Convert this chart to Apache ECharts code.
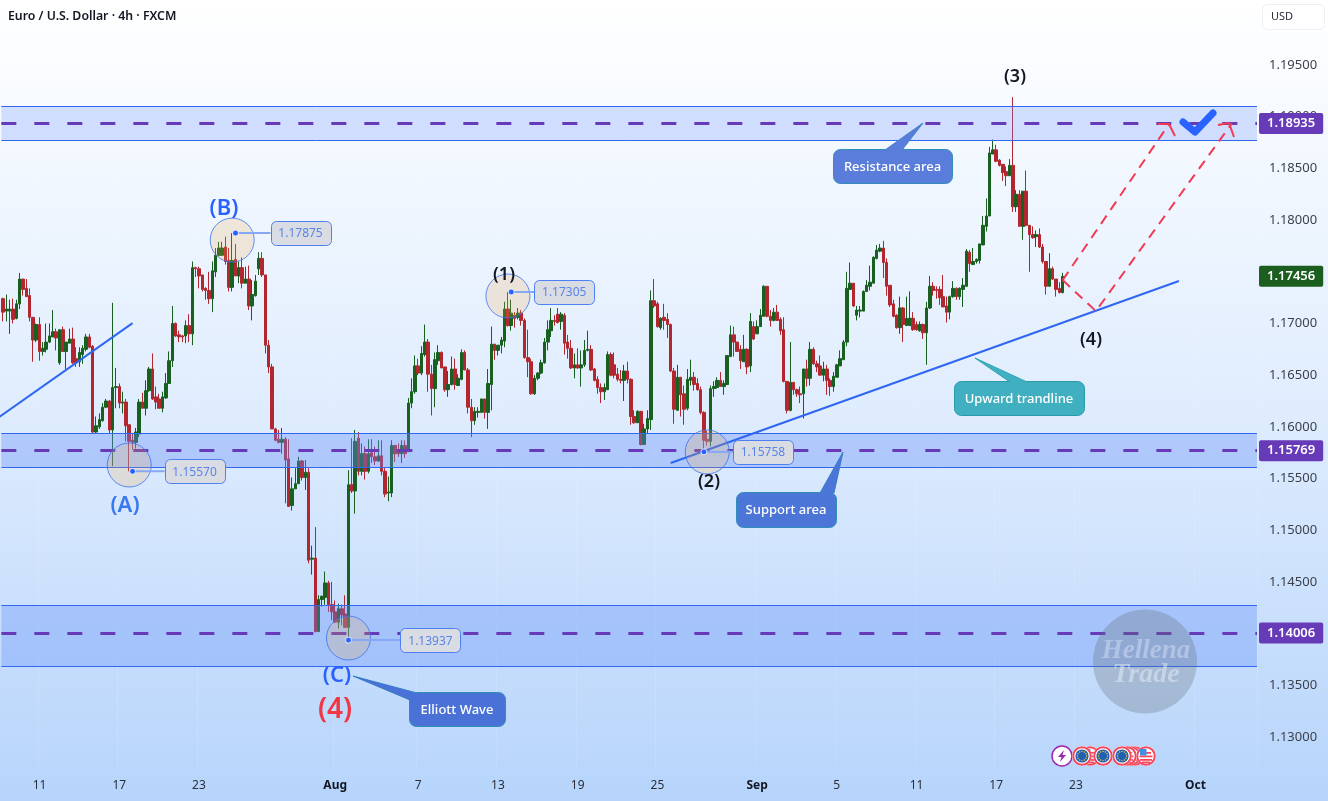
<!DOCTYPE html>
<html>
<head>
<meta charset="utf-8">
<title>EUR/USD 4h</title>
<style>html,body{margin:0;padding:0;background:#fff}#chart{width:1328px;height:801px}</style>
<script src="https://cdn.jsdelivr.net/npm/echarts@6/dist/echarts.min.js"></script>
</head>
<body>
<div id="chart"></div>
<script>
// EUR/USD 4h candles, prices in units of 0.0001
const opens = [
11724,11712,11712,11714,11705,11719,11743,11734,11727,11706,
11684,11699,11673,11675,11682,11687,11692,11662,11694,11673,
11681,11685,11666,11663,11670,11675,11687,11678,11595,11600,
11606,11619,11625,11597,11638,11639,11623,11624,11602,11587,
11585,11593,11624,11618,11635,11656,11629,11627,11618,11628,
11642,11664,11700,11689,11688,11688,11698,11690,11754,11753,
11747,11734,11732,11724,11750,11766,11766,11774,11761,11735,
11762,11746,11754,11739,11743,11717,11727,11753,11763,11747,
11679,11658,11598,11588,11585,11588,11569,11524,11540,11545,
11567,11551,11556,11472,11473,11402,11433,11435,11449,11428,
11421,11411,11424,11419,11406,11544,11538,11589,11557,11574,
11557,11575,11571,11567,11572,11557,11536,11536,11582,11578,
11574,11582,11576,11623,11634,11659,11652,11670,11682,11651,
11637,11664,11672,11658,11636,11641,11656,11640,11646,11672,
11655,11619,11606,11614,11614,11627,11614,11641,11680,11674,
11679,11683,11714,11698,11708,11706,11710,11703,11667,11663,
11632,11647,11652,11662,11682,11693,11703,11709,11702,11708,
11682,11676,11657,11660,11657,11660,11674,11675,11656,11646,
11638,11634,11636,11670,11660,11651,11646,11645,11654,11646,
11610,11604,11615,11583,11598,11607,11722,11719,11696,11706,
11704,11699,11654,11616,11648,11632,11618,11645,11648,11642,
11636,11614,11588,11586,11637,11638,11645,11639,11641,11668,
11689,11682,11675,11663,11675,11659,11697,11690,11697,11707,
11736,11707,11703,11711,11704,11694,11644,11616,11643,11636,
11632,11632,11656,11647,11675,11661,11659,11650,11656,11645,
11639,11648,11659,11665,11682,11733,11739,11708,11712,11712,
11731,11736,11739,11763,11770,11773,11759,11737,11719,11708,
11696,11715,11698,11698,11705,11699,11693,11699,11691,11715,
11736,11733,11733,11726,11717,11711,11726,11734,11726,11733,
11736,11769,11757,11760,11761,11776,11794,11804,11864,11868,
11858,11854,11847,11843,11853,11813,11825,11794,11828,11795,
11786,11784,11786,11774,11760,11736,11753,11743,11734,11730];
const closes = [
11711,11714,11714,11704,11719,11743,11733,11726,11706,11684,
11699,11673,11676,11682,11688,11692,11686,11694,11673,11682,
11685,11662,11662,11672,11676,11687,11677,11595,11601,11607,
11619,11625,11597,11638,11639,11623,11624,11601,11586,11585,
11595,11624,11618,11635,11656,11627,11624,11618,11629,11642,
11664,11700,11688,11687,11687,11698,11690,11754,11753,11746,
11733,11732,11724,11751,11766,11773,11773,11760,11735,11761,
11746,11754,11739,11743,11717,11728,11741,11763,11747,11679,
11658,11598,11587,11585,11588,11568,11523,11540,11545,11567,
11551,11556,11471,11473,11402,11433,11436,11449,11428,11421,
11411,11424,11418,11406,11544,11538,11586,11557,11574,11557,
11574,11571,11567,11572,11557,11535,11537,11582,11574,11574,
11582,11574,11623,11634,11659,11652,11671,11682,11651,11637,
11665,11672,11657,11636,11641,11656,11641,11647,11672,11655,
11619,11606,11615,11615,11627,11614,11642,11680,11674,11679,
11684,11714,11698,11710,11705,11710,11703,11667,11663,11632,
11647,11652,11662,11682,11694,11703,11702,11701,11709,11681,
11676,11657,11660,11657,11660,11674,11675,11655,11645,11638,
11634,11638,11670,11650,11650,11646,11645,11654,11646,11610,
11604,11615,11583,11598,11608,11722,11717,11697,11705,11703,
11699,11654,11617,11648,11631,11617,11646,11648,11641,11636,
11614,11587,11586,11637,11639,11645,11639,11642,11669,11689,
11682,11673,11664,11675,11658,11702,11685,11697,11708,11736,
11707,11703,11711,11703,11693,11644,11616,11643,11636,11632,
11631,11656,11647,11675,11661,11658,11650,11656,11645,11639,
11649,11660,11666,11682,11734,11739,11717,11713,11713,11731,
11737,11740,11764,11771,11773,11759,11736,11718,11707,11696,
11715,11699,11705,11705,11694,11694,11699,11691,11715,11736,
11732,11732,11725,11716,11711,11726,11734,11726,11734,11737,
11770,11758,11760,11762,11777,11795,11804,11865,11868,11857,
11853,11846,11843,11853,11813,11825,11794,11828,11795,11786,
11783,11786,11774,11760,11736,11753,11743,11733,11730,11745.6];
const lows = [
11702,11702,11690,11700,11704,11714,11727,11726,11702,11663,
11682,11664,11669,11672,11681,11687,11674,11660,11673,11656,
11681,11661,11658,11658,11661,11673,11676,11594,11594,11598,
11605,11618,11594,11562,11618,11618,11613,11586,11557,11578,
11579,11590,11618,11611,11634,11626,11617,11618,11614,11627,
11642,11658,11687,11682,11682,11681,11682,11679,11745,11734,
11731,11723,11719,11711,11745,11765,11766,11757,11731,11731,
11746,11739,11734,11739,11713,11703,11726,11747,11745,11671,
11652,11598,11586,11584,11574,11526,11523,11519,11540,11545,
11548,11539,11468,11457,11401,11402,11426,11428,11421,11413,
11410,11405,11408,11406,11393.7,11536,11516,11553,11553,11549,
11555,11565,11563,11566,11553,11532,11528,11532,11566,11571,
11565,11570,11576,11618,11632,11650,11650,11668,11634,11611,
11619,11660,11657,11634,11629,11640,11636,11640,11645,11655,
11613,11590,11602,11609,11614,11608,11598,11616,11665,11669,
11671,11677,11697,11693,11696,11704,11698,11666,11648,11631,
11631,11645,11651,11661,11674,11687,11698,11700,11694,11670,
11666,11656,11647,11656,11639,11658,11673,11654,11644,11632,
11623,11626,11636,11649,11647,11644,11642,11625,11642,11602,
11603,11604,11582,11583,11594,11597,11715,11696,11694,11694,
11686,11653,11603,11616,11610,11602,11616,11640,11635,11635,
11612,11575.8,11582,11581,11629,11637,11639,11631,11641,11668,
11668,11673,11656,11663,11651,11653,11684,11690,11697,11707,
11706,11697,11702,11703,11689,11643,11613,11615,11631,11629,
11623,11608,11639,11640,11660,11653,11650,11644,11631,11630,
11634,11648,11659,11665,11678,11733,11716,11703,11706,11712,
11731,11732,11739,11762,11769,11744,11727,11716,11706,11695,
11690,11682,11698,11698,11693,11693,11692,11685,11660,11714,
11727,11724,11718,11716,11701,11704,11725,11723,11723,11716,
11736,11750,11757,11758,11758,11776,11789,11804,11864,11856,
11852,11838,11833,11843,11808,11808,11794,11781,11794,11750,
11782,11774,11773,11758,11728,11736,11742,11726,11729,11729];
const highs = [
11725,11728,11723,11724,11723,11749,11743,11743,11734,11706,
11700,11706,11682,11700,11700,11713,11695,11694,11697,11682,
11695,11696,11677,11677,11679,11690,11690,11679,11610,11613,
11623,11627,11626,11720,11657,11642,11634,11627,11602,11594,
11599,11627,11633,11645,11658,11671,11639,11632,11634,11652,
11673,11717,11701,11693,11689,11703,11709,11760,11755,11755,
11747,11735,11750,11760,11773,11779,11779,11784,11773,11787.5,
11777,11760,11764,11755,11756,11742,11747,11769,11769,11747,
11684,11661,11599,11597,11599,11590,11588,11551,11560,11571,
11568,11568,11560,11485,11503,11437,11437,11460,11451,11450,
11432,11429,11428,11437,11558,11589,11597,11595,11584,11581,
11588,11588,11581,11587,11587,11560,11552,11587,11582,11584,
11587,11587,11628,11647,11669,11666,11678,11699,11685,11660,
11672,11679,11673,11658,11654,11668,11666,11651,11675,11674,
11657,11627,11619,11619,11627,11627,11656,11697,11680,11679,
11687,11721,11730.5,11723,11711,11715,11713,11705,11694,11666,
11650,11653,11665,11686,11703,11715,11708,11715,11711,11710,
11689,11684,11671,11676,11674,11684,11693,11679,11657,11649,
11642,11642,11673,11672,11672,11657,11655,11660,11663,11647,
11616,11616,11615,11603,11616,11732,11743,11721,11706,11719,
11710,11700,11657,11660,11648,11640,11656,11665,11653,11647,
11639,11615,11596,11640,11644,11648,11653,11645,11669,11698,
11697,11682,11679,11689,11676,11710,11702,11703,11714,11737,
11736,11713,11715,11718,11706,11706,11644,11682,11643,11637,
11639,11656,11665,11682,11677,11664,11669,11663,11660,11647,
11653,11661,11674,11684,11750,11759,11739,11717,11717,11732,
11742,11756,11765,11776,11777,11780,11763,11737,11723,11709,
11726,11716,11726,11731,11711,11702,11702,11700,11721,11746,
11740,11736,11736,11747,11726,11727,11741,11735,11735,11744,
11772,11771,11773,11763,11777,11804,11821,11871,11878,11873,
11859,11854,11852,11859,11919,11829,11829,11828,11848,11795,
11794,11790,11792,11777,11760,11768,11755,11743,11740,11749];

// Time axis: bars reserved on the axis and the labelled bars
const barCount = 378;
const tickBars = [11,35,59,100,125,149,173,197,227,251,275,299,323,359];
const tickLabels = ['11','17','23','Aug','7','13','19','25','Sep','5','11','17','23','Oct'];
const priceTicks = [1.13,1.135,1.14,1.145,1.15,1.155,1.16,1.165,1.17,1.175,1.18,1.185,1.19,1.195];

// Horizontal zones and their mid levels
const zoneTops = [1.19103,1.1594,1.14276];
const zoneBottoms = [1.18775,1.15611,1.13686];
const zoneFills = ['rgba(110,150,255,0.28)','rgba(100,140,250,0.36)','rgba(95,140,250,0.33)'];
const levelPrices = [1.18935,1.15769,1.14006];
const lastPrice = 1.17456;

// Trendlines and the projected wave path
const trendOneBars = [-1,39];
const trendOnePrices = [1.16098,1.17004];
const trendTwoBars = [201,354];
const trendTwoPrices = [1.1565,1.17411];
const pathOneBars = [319,351];
const pathOnePrices = [1.1742,1.18929];
const pathTwoBars = [319,329,370];
const pathTwoPrices = [1.1742,1.1712,1.18939];

// Elliott wave pivots: ring centres, labelled extremes
const ringBars = [38,69,152,212,104];
const ringPrices = [1.15631,1.17807,1.17266,1.15757,1.13957];
const pivotBars = [39,70,153,211,104];
const pivotPrices = [1.1557,1.17875,1.17305,1.15758,1.13937];
const pivotText = ['1.15570','1.17875','1.17305','1.15758','1.13937'];
const pivotGap = [32,35,23,29,52];

const FONT = '"Noto Sans", sans-serif';
const candleData = opens.map((o,i)=>[o/1e4,closes[i]/1e4,lows[i]/1e4,highs[i]/1e4]);
const axisData = Array.from({length:barCount},(_,i)=>{const k=tickBars.indexOf(i);return k<0?'':tickLabels[k];});
const pairs = (b,p)=>b.map((x,i)=>[x,p[i]]);

function trendSeries(name,data,style){
  return {name,type:'line',data,z:6,silent:true,symbol:'none',showSymbol:false,lineStyle:style,clip:true};
}

// Rounded speech-bubble note
function note(text,x,y,w,h,tip,fill,edge){
  return [
    {type:'polygon',z:50,shape:{points:tip},style:{fill:fill,stroke:edge,lineWidth:1}},
    {type:'rect',z:50,shape:{x:x+0.5,y:y+0.5,width:w,height:h,r:7},style:{fill:fill,stroke:edge,lineWidth:1}},
    {type:'polygon',z:50,shape:{points:tip.map(p=>[p[0],p[1]+(p[1]===y?2:0)])},style:{fill:fill}},
    {type:'text',z:51,style:{text,x:x+w/2,y:y+h/2+1,align:'center',verticalAlign:'middle',fill:'#fff',font:'500 13px '+FONT}}
  ];
}
function word(text,x,y,size,color,weight){
  return {type:'text',z:52,style:{text,x,y,align:'center',verticalAlign:'middle',fill:color,font:(weight||'400')+' '+size+'px '+FONT}};
}
function euBadge(cx,cy){
  const items=[
    {type:'circle',z:60,shape:{cx,cy,r:10},style:{fill:'#fff'}},
    {type:'circle',z:60,shape:{cx,cy,r:8.8},style:{fill:'#fff',stroke:'#f4485e',lineWidth:2}},
    {type:'circle',z:60,shape:{cx,cy,r:6.6},style:{fill:'#1f5fb4'}}
  ];
  for(let a=0;a<12;a++){
    const t=a/12*Math.PI*2;
    items.push({type:'circle',z:60,shape:{cx:cx+Math.cos(t)*4.6,cy:cy+Math.sin(t)*4.6,r:0.7},style:{fill:'#f5cf3a'}});
  }
  return items;
}
function usBadge(cx,cy){
  const items=[
    {type:'circle',z:60,shape:{cx,cy,r:10},style:{fill:'#fff'}},
    {type:'circle',z:60,shape:{cx,cy,r:8.8},style:{fill:'#fff',stroke:'#f4485e',lineWidth:2}}
  ];
  [[-4,10],[-0.5,13],[3,12],[5.5,8]].forEach(([d,w])=>{
    items.push({type:'rect',z:60,shape:{x:cx-w/2,y:cy+d,width:w,height:1.8},style:{fill:'#f4485e'}});
  });
  items.push({type:'rect',z:60,shape:{x:cx-6,y:cy-7,width:6.5,height:6.5},style:{fill:'#3f8ee8'}});
  return items;
}

const graphics = [
  {type:'text',z:52,style:{text:'Euro / U.S. Dollar · 4h · FXCM',x:8,y:16,verticalAlign:'middle',fill:'#131722',font:'600 12.3px '+FONT}},
  {type:'rect',z:52,shape:{x:1262.5,y:4.5,width:62,height:25,r:5},style:{fill:'#fff',stroke:'#eceff3',lineWidth:1}},
  {type:'text',z:53,style:{text:'USD',x:1271,y:17,verticalAlign:'middle',fill:'#2a2e39',font:'11px '+FONT}},

  word('(A)',125,506,22,'#3a78f2','600'),
  word('(B)',224,209,22,'#2962ff','600'),
  word('(C)',337,676,22,'#2962ff','600'),
  word('(4)',335,710,28,'#f23645','600'),
  word('(1)',504,275,18,'#131722','600'),
  word('(2)',709,482,18,'#131722','600'),
  word('(3)',1015,77,18,'#131722','600'),
  word('(4)',1091,340,18,'#131722','600'),

  ...note('Resistance area',833,149,119,34,[[923,123],[885,150],[902,150]],'#5a7ddb','#2f8fb8'),
  ...note('Support area',736,492,100,35,[[843,452],[820,493],[834,493]],'#4b76d8','#2f8fb8'),
  ...note('Upward trandline',954,381,130,34,[[975,358],[1010,382],[1027,382]],'#40afc0','#2a9aab'),
  ...note('Elliott Wave',409,692,96,34,[[353,676],[410,700],[417,693]],'#4a72d6','#2f8fb8'),

  // Arrow heads of the projected paths
  {type:'polyline',z:40,shape:{points:[[1158,124],[1169,124],[1175,136]]},style:{fill:'none',stroke:'#f23a55',lineWidth:2}},
  {type:'polyline',z:40,shape:{points:[[1218,125],[1229,123],[1234,137]]},style:{fill:'none',stroke:'#f23a55',lineWidth:2}},
  {type:'polyline',z:41,shape:{points:[[1183,122],[1195,132],[1213,113]]},style:{fill:'none',stroke:'#2962ff',lineWidth:7,lineCap:'round',lineJoin:'round'}},

  // Watermark
  {type:'circle',z:45,shape:{cx:1145,cy:661.5,r:52},style:{fill:'rgba(100,110,120,0.3)'}},
  {type:'text',z:46,style:{text:'Hellena',x:1146,y:651,align:'center',verticalAlign:'middle',fill:'rgba(230,238,252,0.4)',font:'italic bold 27px "Liberation Serif", serif'}},
  {type:'text',z:46,style:{text:'Trade',x:1146,y:675,align:'center',verticalAlign:'middle',fill:'rgba(230,238,252,0.5)',font:'italic bold 28px "Liberation Serif", serif'}},

  // Economic event badges
  ...usBadge(1090,756),
  ...euBadge(1103,756),
  {type:'circle',z:60,shape:{cx:1062,cy:756,r:10},style:{fill:'#fff',stroke:'#9c27b0',lineWidth:1.5}},
  {type:'polygon',z:60,shape:{points:[[1064,750],[1058,757],[1061.5,757],[1060,762],[1066,755],[1062.5,755]]},style:{fill:'#9c27b0'}},
  ...euBadge(1082,756),
  ...usBadge(1135,756),
  ...usBadge(1131,756),
  ...usBadge(1127,756),
  ...usBadge(1146,756),
  ...euBadge(1122,756)
];

const tagLabel = (value,fill)=>({show:true,position:'end',distance:2,formatter:value.toFixed(5),color:'#fff',
  backgroundColor:fill,padding:[3,8],borderRadius:2,fontFamily:'"Noto Sans", sans-serif',fontSize:13,fontWeight:600,lineHeight:15});
const levelLines = levelPrices.map(p=>({yAxis:p,label:tagLabel(p,'#673ab7'),lineStyle:{type:[15,18],width:3,color:'#673ab7'}}));
const zoneEdges = zoneTops.concat(zoneBottoms).map(p=>({yAxis:p,label:{show:false},lineStyle:{type:'solid',width:1,color:'#2f66f2'}}));
const lastTag = {yAxis:lastPrice,label:tagLabel(lastPrice,'#1b5e20'),lineStyle:{color:'rgba(0,0,0,0)',width:1}};

const chart = echarts.init(document.getElementById('chart'),null,{renderer:'canvas'});
chart.setOption({
  animation:false,
  backgroundColor:new echarts.graphic.LinearGradient(0,0,0,1,[
    {offset:0,color:'#ffffff'},{offset:0.5,color:'#e0edfe'},{offset:1,color:'#b6d4fb'}]),
  grid:{left:0.74,right:71,top:0,bottom:31,containLabel:false},
  xAxis:{type:'category',data:axisData,boundaryGap:true,
    axisLine:{show:false},axisTick:{show:false},
    splitLine:{show:true,interval:(i)=>tickBars.includes(i),lineStyle:{color:'rgba(255,255,255,0.12)',width:1}},
    axisLabel:{show:true,interval:0,hideOverlap:false,margin:10,color:'#2a2e39',fontFamily:'"Noto Sans", sans-serif',fontSize:12,
      formatter:(v)=>(/^[A-Z]/.test(v)?'{b|'+v+'}':v),
      rich:{b:{fontWeight:700,fontSize:12,color:'#131722',fontFamily:'"Noto Sans", sans-serif'}}}},
  yAxis:{type:'value',position:'right',min:1.1268,max:1.2013,scale:true,
    axisLine:{show:false},axisTick:{show:false},splitLine:{show:false},
    axisLabel:{show:true,customValues:priceTicks,margin:12,color:'#3b3f4a',fontFamily:'"Noto Sans", sans-serif',fontSize:13,padding:[4,0,0,0],
      formatter:(v)=>v.toFixed(5),showMinLabel:true,showMaxLabel:true}},
  graphic:graphics,
  series:[
    {name:'EURUSD',type:'candlestick',data:candleData,z:2,barWidth:3,silent:true,
      itemStyle:{color:'#17601f',color0:'#b2272f',borderColor:'#17601f',borderColor0:'#b2272f',borderWidth:1}},
    {name:'Zones',type:'line',data:[],z:5,silent:true,
      markArea:{silent:true,z:3,data:zoneTops.map((t,i)=>[
        {yAxis:t,itemStyle:{color:zoneFills[i]}},{yAxis:zoneBottoms[i]}])},
      markLine:{silent:true,z:5,symbol:'none',animation:false,precision:5,
        data:[...zoneEdges,...levelLines,lastTag]}},
    trendSeries('Trend one',pairs(trendOneBars,trendOnePrices),{color:'#2f66f2',width:2}),
    trendSeries('Upward trendline',pairs(trendTwoBars,trendTwoPrices),{color:'#2f66f2',width:2}),
    trendSeries('Path one',pairs(pathOneBars,pathOnePrices),{color:'#f23a55',width:2,type:[10,7]}),
    trendSeries('Path two',pairs(pathTwoBars,pathTwoPrices),{color:'#f23a55',width:2,type:[10,7]}),
    {name:'Rings',type:'scatter',data:pairs(ringBars,ringPrices),z:7,silent:true,symbol:'circle',symbolSize:44,
      itemStyle:{color:'rgba(245,170,70,0.25)',borderColor:'#3a72f5',borderWidth:1}},
    {name:'Pivots',type:'custom',data:pairs(pivotBars,pivotPrices),z:8,silent:true,clip:false,
      encode:{x:0,y:1},
      renderItem(params,api){
        const p=api.coord([api.value(0),api.value(1)]);
        const i=params.dataIndex, bx=p[0]+pivotGap[i], by=p[1]-12;
        return {type:'group',children:[
          {type:'line',shape:{x1:p[0],y1:p[1],x2:bx,y2:p[1]},style:{stroke:'#86a6f6',lineWidth:2}},
          {type:'circle',shape:{cx:p[0],cy:p[1],r:3},style:{fill:'#2962ff',stroke:'rgba(255,255,255,0.8)',lineWidth:1}},
          {type:'rect',shape:{x:Math.round(bx)+0.5,y:Math.round(by)+0.5,width:60,height:24,r:5},style:{fill:'#d9dde3',stroke:'#4f7ff5',lineWidth:1}},
          {type:'text',style:{text:pivotText[i],x:bx+30,y:by+13,align:'center',verticalAlign:'middle',fill:'#5b84e8',font:'12px "Noto Sans", sans-serif'}}
        ]};
      }}
  ]
});
</script>
</body>
</html>
